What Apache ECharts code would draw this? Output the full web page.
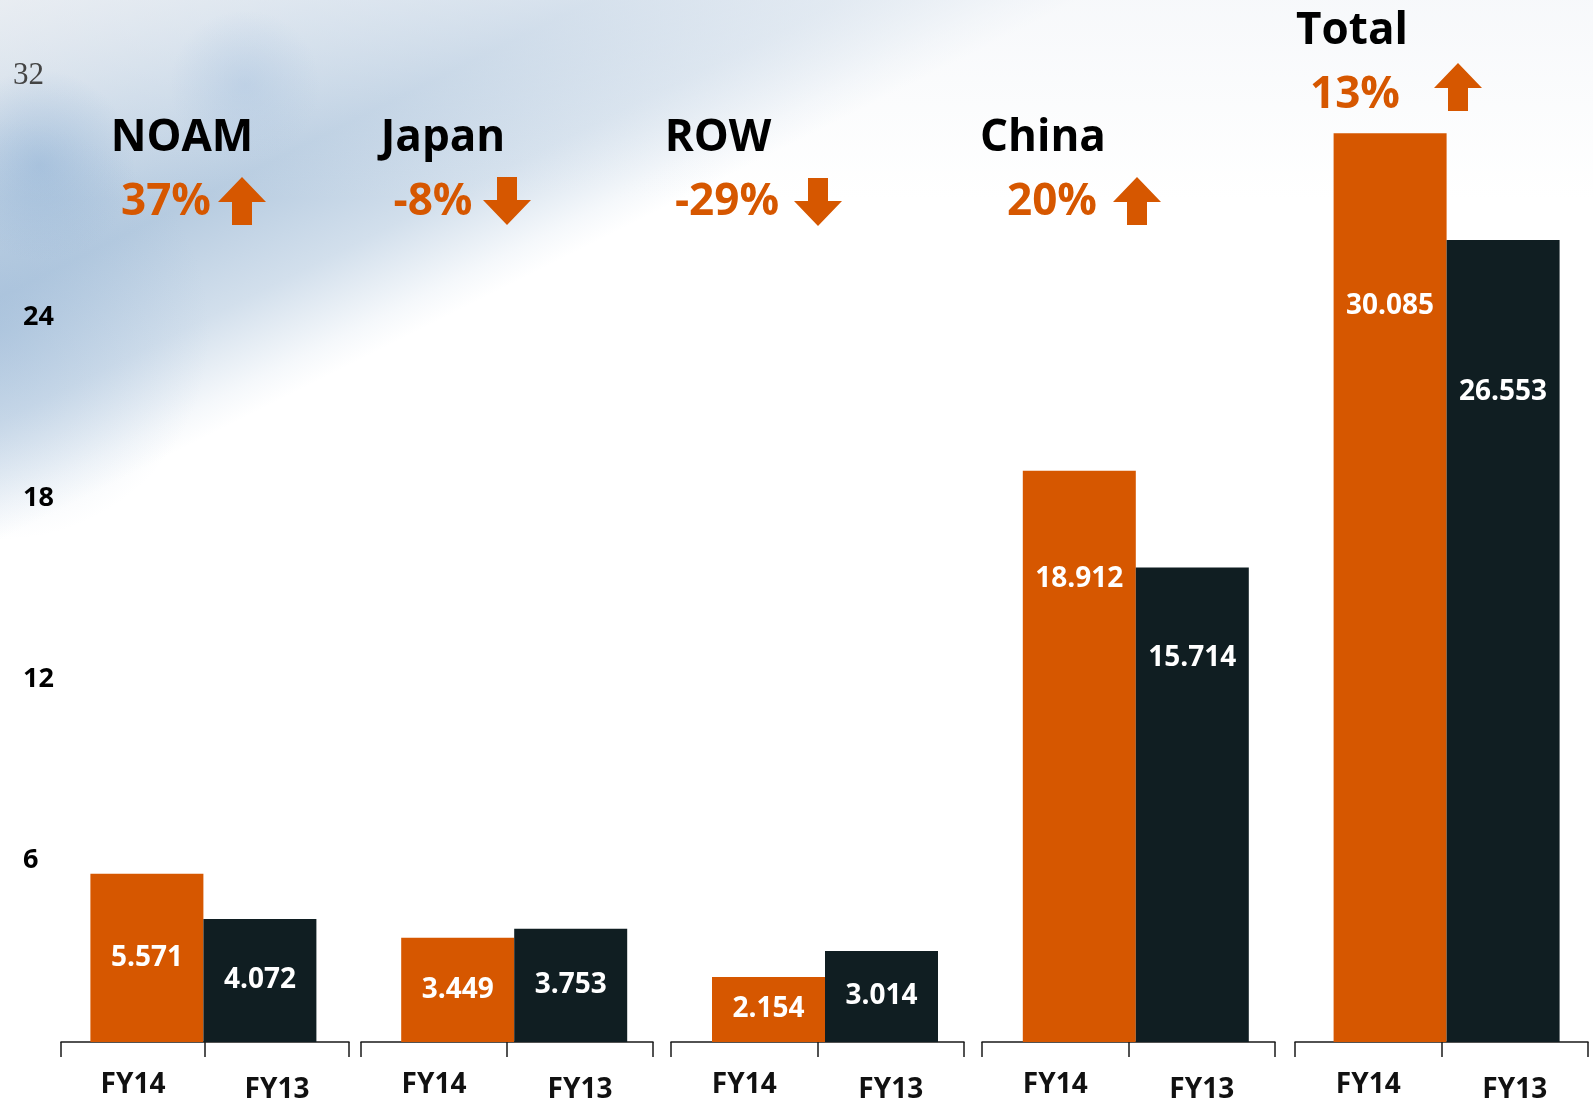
<!DOCTYPE html>
<html>
<head>
<meta charset="utf-8">
<script src="https://cdn.jsdelivr.net/npm/echarts@6/dist/echarts.min.js"></script>
<style>
  html, body { margin: 0; padding: 0; background: #ffffff; }
  #chart { width: 1593px; height: 1099px; }
</style>
</head>
<body>
<div id="chart"></div>
<script>
// ---- data ----
const categories = ['NOAM', 'Japan', 'ROW', 'China', 'Total'];
const periods = ['FY14', 'FY13'];
const fy14 = [5.571, 3.449, 2.154, 18.912, 30.085];
const fy13 = [4.072, 3.753, 3.014, 15.714, 26.553];
const changes = ['37%', '-8%', '-29%', '20%', '13%'];
const directions = ['up', 'down', 'down', 'up', 'up'];
const yTickValues = [6, 12, 18, 24, 32];

// ---- layout / style ----
const ORANGE = '#D65700';
const DARK = '#101E22';
const FONT = '"Open Sans", "Noto Sans", sans-serif';
const segLeft = [61, 361, 671, 982, 1295];
const segWidths = [288, 292, 293, 293, 293];
const titleX = [182, 443, 718, 1043, 1352];
const titleY = [138, 138, 138, 138, 31];
const pctX = [166, 433, 727, 1052, 1355];
const pctY = [202, 202, 202, 202, 95];
const arrowPos = [[218, 177], [483, 177], [794, 178], [1113, 177], [1434, 63]];
const GRID_BOTTOM = 57;

const chart = echarts.init(document.getElementById('chart'), null, { renderer: 'canvas' });

const upPts = [[24, 0], [48, 25], [34, 25], [34, 48], [14, 48], [14, 25], [0, 25]];
const downPts = [[14, 0], [34, 0], [34, 23], [48, 23], [24, 48], [0, 23], [14, 23]];

function blob(cx, cy, r, rgb, a) {
  return { type: 'circle', z: -98, silent: true, shape: { cx: cx, cy: cy, r: r },
    style: { fill: { type: 'radial', x: 0.5, y: 0.5, r: 0.5,
      colorStops: [
        { offset: 0, color: 'rgba(' + rgb + ',' + a + ')' },
        { offset: 1, color: 'rgba(' + rgb + ',0)' }
      ] } } };
}

const graphics = [
  { type: 'rect', z: -100, silent: true, shape: { x: 0, y: 0, width: 1593, height: 1099 },
    style: { fill: { type: 'linear', global: true, x: 0, y: 0, x2: 216, y2: 432,
      colorStops: [
        { offset: 0, color: '#dfe5ec' },
        { offset: 0.3, color: '#c6d6e6' },
        { offset: 0.55, color: '#b6cbe0' },
        { offset: 0.78, color: '#d2dfec' },
        { offset: 0.94, color: '#f5f8fb' },
        { offset: 1, color: '#ffffff' }
      ] } } },
  { type: 'rect', z: -99, silent: true, shape: { x: 0, y: 0, width: 1593, height: 200 },
    style: { fill: { type: 'linear', global: true, x: 0, y: 0, x2: 0, y2: 200,
      colorStops: [
        { offset: 0, color: 'rgba(240,243,247,0.55)' },
        { offset: 1, color: 'rgba(240,243,247,0)' }
      ] } } },
  blob(0, 330, 210, '150,181,214', 0.38),
  blob(40, 165, 95, '140,175,212', 0.5),
  blob(245, 85, 75, '165,192,222', 0.4)
];

categories.forEach((name, i) => {
  graphics.push({
    type: 'text', z: 100,
    style: { text: name, x: titleX[i], y: titleY[i], align: 'center', verticalAlign: 'middle',
      fontFamily: FONT, fontWeight: 'bold', fontSize: 44, fill: '#000000' }
  });
  graphics.push({
    type: 'text', z: 100,
    style: { text: changes[i], x: pctX[i], y: pctY[i], align: 'center', verticalAlign: 'middle',
      fontFamily: FONT, fontWeight: 'bold', fontSize: 44, fill: ORANGE }
  });
  graphics.push({
    type: 'polygon', z: 100, x: arrowPos[i][0], y: arrowPos[i][1],
    shape: { points: directions[i] === 'up' ? upPts : downPts },
    style: { fill: ORANGE }
  });
});

const grids = [{ left: 48, width: 1554, top: 0, bottom: GRID_BOTTOM, outerBoundsMode: 'none', containLabel: false }];
const xAxes = [{ gridIndex: 0, type: 'category', data: categories, show: false }];
const yAxes = [{
  gridIndex: 0, type: 'value', min: 0, max: 34.5,
  axisLine: { show: false }, axisTick: { show: false }, splitLine: { show: false },
  axisLabel: {
    customValues: yTickValues, align: 'left', margin: 35,
    formatter: v => v === 32 ? '{s|32}' : '{b|' + v + '}',
    rich: {
      s: { fontFamily: '"Liberation Serif", "DejaVu Serif", serif', fontSize: 31, color: '#444444' },
      b: { fontFamily: FONT, fontWeight: 'bold', fontSize: 27, color: '#000000', padding: [0, 0, 0, 10] }
    }
  }
}];

categories.forEach((c, i) => {
  grids.push({ left: segLeft[i], width: segWidths[i], top: 0, bottom: GRID_BOTTOM, outerBoundsMode: 'none', containLabel: false });
  xAxes.push({
    gridIndex: i + 1, type: 'category', data: periods, position: 'bottom',
    axisLine: { show: true, lineStyle: { color: '#1a1a1a', width: 1.5 } },
    axisTick: { show: true, interval: 0, length: 15, lineStyle: { color: '#1a1a1a', width: 1.5 } },
    axisLabel: {
      interval: 0, margin: 29,
      formatter: v => v === 'FY13' ? '{b|FY13}' : '{a|FY14}',
      rich: {
        a: { fontFamily: FONT, fontWeight: 'bold', fontSize: 28, color: '#111111' },
        b: { fontFamily: FONT, fontWeight: 'bold', fontSize: 28, color: '#111111', padding: [5, 0, 0, 0] }
      }
    }
  });
  yAxes.push({ gridIndex: i + 1, type: 'value', min: 0, max: 34.5, show: false });
});

function items(values) {
  return values.map(v => ({
    value: v,
    label: v > 10
      ? { position: ['50%', '19%'], align: 'center', verticalAlign: 'middle' }
      : { position: 'inside' }
  }));
}

const labelStyle = {
  show: true, color: '#ffffff', fontFamily: FONT, fontWeight: 'bold', fontSize: 28,
  formatter: p => p.value.toFixed(3)
};

chart.setOption({
  animation: false,
  backgroundColor: '#ffffff',
  graphic: { elements: graphics },
  grid: grids,
  xAxis: xAxes,
  yAxis: yAxes,
  series: [
    { name: 'FY14', type: 'bar', xAxisIndex: 0, yAxisIndex: 0, data: items(fy14),
      barWidth: 113, barGap: '0%', itemStyle: { color: ORANGE }, label: labelStyle, z: 5 },
    { name: 'FY13', type: 'bar', xAxisIndex: 0, yAxisIndex: 0, data: items(fy13),
      barWidth: 113, barGap: '0%', itemStyle: { color: DARK }, label: labelStyle, z: 5 }
  ]
});
</script>
</body>
</html>
